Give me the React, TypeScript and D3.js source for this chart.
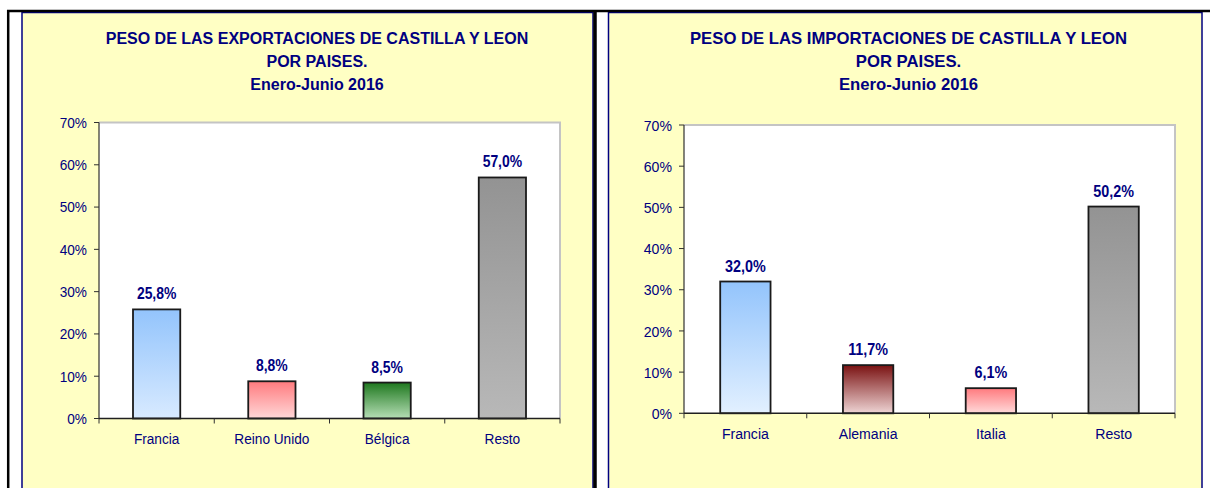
import React from "react";
import * as d3 from "d3";

const exportTitle = ["PESO DE LAS EXPORTACIONES DE CASTILLA Y LEON", "POR PAISES.", "Enero-Junio 2016"];
const exportCategories = ["Francia", "Reino Unido", "Bélgica", "Resto"];
const exportValues = [25.8, 8.8, 8.5, 57.0];
const exportColors: [string, string][] = [
  ["#93C4FC", "#D8EAFF"],
  ["#FF7A7E", "#FFD8D8"],
  ["#1E781E", "#B6DEB6"],
  ["#939393", "#B8B8B8"],
];

const importTitle = ["PESO DE LAS IMPORTACIONES DE CASTILLA Y LEON", "POR PAISES.", "Enero-Junio 2016"];
const importCategories = ["Francia", "Alemania", "Italia", "Resto"];
const importValues = [32.0, 11.7, 6.1, 50.2];
const importColors: [string, string][] = [
  ["#93C4FC", "#E2F0FF"],
  ["#7A1212", "#EED4D4"],
  ["#FF7A7E", "#FFDADA"],
  ["#939393", "#B8B8B8"],
];

const yTicks = [0, 10, 20, 30, 40, 50, 60, 70];

const NAVY = "#000080";
const FONT = "'Liberation Sans', Arial, sans-serif";

function CText(props: {
  x: number;
  y: number;
  size: number;
  sx: number;
  anchor: "start" | "middle" | "end";
  bold?: boolean;
  dy?: string;
  children: React.ReactNode;
}) {
  return (
    <text
      transform={`translate(${props.x},${props.y}) scale(${props.sx},1)`}
      dy={props.dy}
      textAnchor={props.anchor}
      fontFamily={FONT}
      fontWeight={props.bold ? "bold" : "normal"}
      fontSize={props.size}
      fill={NAVY}
    >
      {props.children}
    </text>
  );
}

type PanelProps = {
  id: string;
  px: number;
  pw: number;
  titleX: number;
  titleSize: number;
  labelSize: number;
  valueSize: number;
  plot: { x0: number; x1: number; y0: number; y1: number };
  title: string[];
  categories: string[];
  values: number[];
  colors: [string, string][];
  xLabelY: number;
};

function Panel(p: PanelProps) {
  const x = d3.scaleBand<string>().domain(p.categories).range([p.plot.x0, p.plot.x1]).paddingInner(0).paddingOuter(0);
  const y = d3.scaleLinear().domain([0, 70]).range([p.plot.y1, p.plot.y0]);
  const bw = x.bandwidth() * 0.41;
  const fmt = (v: number) => v.toFixed(1).replace(".", ",") + "%";
  const boundaries = p.categories.map((c) => x(c)!).concat([p.plot.x1]);
  return (
    <g>
      <defs>
        {p.colors.map((c, i) => (
          <linearGradient key={i} id={`${p.id}-g${i}`} x1="0" y1="0" x2="0" y2="1">
            <stop offset="0%" stopColor={c[0]} />
            <stop offset="100%" stopColor={c[1]} />
          </linearGradient>
        ))}
      </defs>
      <rect x={p.px} y={12.5} width={p.pw} height={490} fill="#FFFFC4" stroke={NAVY} strokeWidth={1.5} />
      {p.title.map((t, i) => (
        <text key={i} x={p.titleX} y={44 + i * 23} textAnchor="middle" fontFamily={FONT} fontWeight="bold" fontSize={p.titleSize} fill={NAVY}>
          {t}
        </text>
      ))}
      {/* plot area */}
      <rect x={p.plot.x0} y={p.plot.y0} width={p.plot.x1 - p.plot.x0} height={p.plot.y1 - p.plot.y0} fill="#FFFFFF" stroke="none" />
      <path d={`M${p.plot.x0},${p.plot.y0}H${p.plot.x1}V${p.plot.y1}`} fill="none" stroke="#C4C4C4" strokeWidth={2} />
      {/* y axis */}
      <line x1={p.plot.x0} x2={p.plot.x0} y1={p.plot.y0} y2={p.plot.y1} stroke="#303030" strokeWidth={1.2} />
      {yTicks.map((t) => (
        <g key={t}>
          <line x1={p.plot.x0 - 5} x2={p.plot.x0} y1={y(t)} y2={y(t)} stroke="#303030" strokeWidth={1} />
          <CText x={p.plot.x0 - 12} y={y(t)} dy="0.36em" anchor="end" size={p.labelSize} sx={0.91}>
            {t}%
          </CText>
        </g>
      ))}
      {/* bars */}
      {p.categories.map((c, i) => {
        const cx = x(c)! + x.bandwidth() / 2;
        return (
          <g key={c}>
            <rect
              x={cx - bw / 2}
              y={y(p.values[i])}
              width={bw}
              height={y(0) - y(p.values[i])}
              fill={`url(#${p.id}-g${i})`}
              stroke="#1A1A1A"
              strokeWidth={1.8}
            />
            <CText x={cx} y={y(p.values[i]) - 10} anchor="middle" bold size={p.valueSize} sx={0.87}>
              {fmt(p.values[i])}
            </CText>
            <CText x={cx} y={p.xLabelY} anchor="middle" size={p.labelSize} sx={0.91}>
              {c}
            </CText>
          </g>
        );
      })}
      {/* x axis */}
      <line x1={p.plot.x0} x2={p.plot.x1} y1={p.plot.y1} y2={p.plot.y1} stroke="#202020" strokeWidth={1.5} />
      {boundaries.map((b, i) => (
        <line key={i} x1={b} x2={b} y1={p.plot.y1} y2={p.plot.y1 + 5} stroke="#303030" strokeWidth={1} />
      ))}
    </g>
  );
}

export default function App() {
  return (
    <svg width={1210} height={488} style={{ position: "absolute", left: 0, top: 0, display: "block", background: "#FFFFFF" }}>
      <rect x={0} y={0} width={1210} height={488} fill="#FFFFFF" />
      <Panel
        id="exp"
        px={22}
        pw={571}
        titleX={317}
        titleSize={16}
        labelSize={15}
        valueSize={16}
        plot={{ x0: 99, x1: 560, y0: 122.5, y1: 418.5 }}
        title={exportTitle}
        categories={exportCategories}
        values={exportValues}
        colors={exportColors}
        xLabelY={444}
      />
      <Panel
        id="imp"
        px={608.5}
        pw={593.5}
        titleX={908.5}
        titleSize={16.7}
        labelSize={15.5}
        valueSize={16.5}
        plot={{ x0: 684, x1: 1175, y0: 125, y1: 413.3 }}
        title={importTitle}
        categories={importCategories}
        values={importValues}
        colors={importColors}
        xLabelY={439}
      />
      <line x1={7} x2={1210} y1={11} y2={11} stroke="#000000" strokeWidth={2.5} />
      <line x1={8.2} x2={8.2} y1={10} y2={488} stroke="#000000" strokeWidth={2.5} />
      <line x1={595} x2={595} y1={10} y2={488} stroke="#000000" strokeWidth={3.5} />
    </svg>
  );
}
